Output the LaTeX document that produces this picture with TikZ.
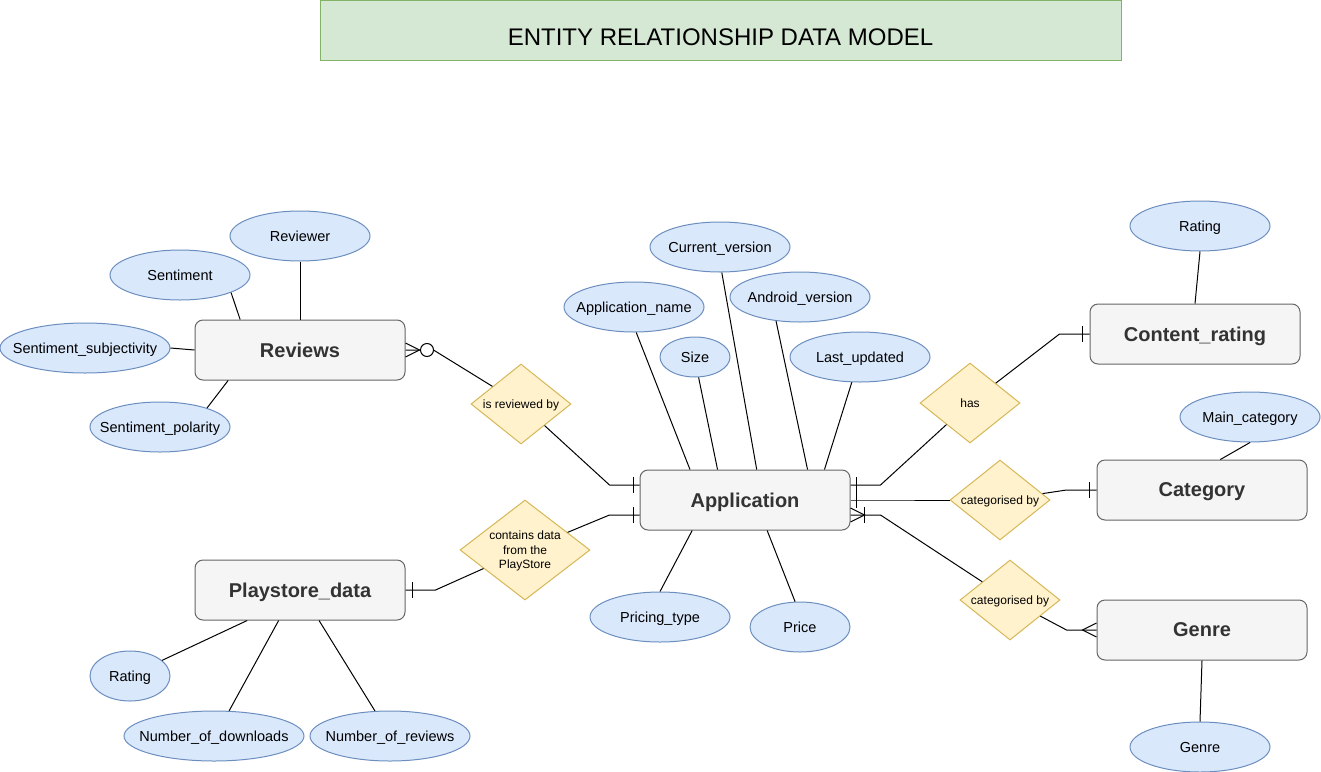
\documentclass[tikz,border=0pt]{standalone}
\usepackage{fontspec}
\setmainfont{Liberation Sans}
\usetikzlibrary{calc,shapes.geometric}

\definecolor{entfill}{HTML}{F5F5F5}
\definecolor{entline}{HTML}{666666}
\definecolor{enttext}{HTML}{333333}
\definecolor{attfill}{HTML}{DAE8FC}
\definecolor{attline}{HTML}{6C8EBF}
\definecolor{relfill}{HTML}{FFF2CC}
\definecolor{relline}{HTML}{D6B656}
\definecolor{titfill}{HTML}{D5E8D4}
\definecolor{titline}{HTML}{82B366}

% ER end marks (all connectors meet the entities horizontally)
\tikzset{
  onebar/.pic={\draw (0,-8) -- (0,8);},
  crowright/.pic={\draw (0,-7) -- (14,0) -- (0,7);},
  crowleft/.pic={\draw (0,-7) -- (-14,0) -- (0,7);},
}

\begin{document}
\begin{tikzpicture}[x=1pt, y=-1pt, line width=1pt,
  every node/.style={font=\fontsize{14.5}{17}\selectfont, text depth=0pt},
  titlebox/.style={draw=titline, fill=titfill, minimum width=801pt, minimum height=60pt,
    inner sep=0pt, text height=30pt, font=\fontsize{24}{28}\selectfont},
  entity/.style={draw=entline, fill=entfill, rounded corners=8pt, minimum width=210pt,
    minimum height=60pt, text=enttext, font=\fontsize{20}{24}\selectfont\bfseries},
  attr/.style={ellipse, draw=attline, fill=attfill, minimum width=140pt, minimum height=50pt,
    inner xsep=-20pt, inner ysep=0pt},
  rel/.style={diamond, draw=relline, fill=relfill, minimum width=100pt, minimum height=80pt,
    inner sep=0pt, aspect=1.25, align=center, font=\fontsize{12}{14.5}\selectfont}]
  \useasboundingbox (0,0) rectangle (1321,771);

  % Title
  \node[titlebox] (title) at (720.5,30) {ENTITY RELATIONSHIP DATA MODEL};

  % === Entities ===
  \node[entity] (rev)  at (300,350)  {Reviews};
  \node[entity] (app)  at (745,500)  {Application};
  \node[entity] (ps)   at (300,590)  {Playstore\_data};
  \node[entity] (cont) at (1195,334) {Content\_rating};
  \node[entity] (cat)  at (1202,490) {Category};
  \node[entity] (gen)  at (1202,630) {Genre};

  % === Attributes ===
  \node[attr] (rvwr)  at (300,236) {Reviewer};
  \node[attr] (sent)  at (180,275) {Sentiment};
  \node[attr, minimum width=170pt] (ssubj) at (85,348) {Sentiment\_subjectivity};
  \node[attr] (spol)  at (160,427) {Sentiment\_polarity};
  \node[attr] (aname) at (634,307) {Application\_name};
  \node[attr, minimum width=70pt, minimum height=40pt] (size) at (695,357) {Size};
  \node[attr] (curv)  at (720,247) {Current\_version};
  \node[attr] (andv)  at (800,297) {Android\_version};
  \node[attr] (lupd)  at (860,357) {Last\_updated};
  \node[attr] (ptype) at (660,617) {Pricing\_type};
  \node[attr, minimum width=100pt] (price) at (800,627) {Price};
  \node[attr] (crate) at (1200,226) {Rating};
  \node[attr] (mcat)  at (1250,417) {Main\_category};
  \node[attr] (gname) at (1200,747) {Genre};
  \node[attr, minimum width=80pt] (prate) at (130,676) {Rating};
  \node[attr, minimum width=180pt] (ndown) at (214,736) {Number\_of\_downloads};
  \node[attr, minimum width=160pt] (nrev)  at (390,736) {Number\_of\_reviews};

  % === Relationships ===
  \node[rel] (revby) at (521,404) {is reviewed by};
  \node[rel, minimum width=130pt, minimum height=100pt, aspect=1.3] (fromps) at (525,550)
    {contains data\\from the\\PlayStore};
  \node[rel] (has)   at (970,403) {has};
  \node[rel] (catby) at (1000,500) {categorised by};
  \node[rel] (genby) at (1010,600) {categorised by};

  % --- attribute links ---
  \draw (rvwr) -- (rev);
  \draw (sent.-19) -- (rev.153);
  \draw (ssubj.east) -- (rev.west);
  \draw (spol.22) -- (rev.203);
  \draw (aname.-85) -- (app.151);
  \draw (size.-80) -- (app.132);
  \draw (curv.-86) -- (app.69);
  \draw (andv.225) -- (app.26);
  \draw (lupd.252) -- (app.21);
  \draw (ptype.north) -- (app.210);
  \draw (price.101) -- (app.306);
  \draw (crate.south) -- (cont.north);
  \draw (mcat.south) -- (cat.59);
  \draw (gname.north) -- (gen.south);
  \draw (prate.26) -- (ps.210);
  \draw (ndown.59) -- (ps.235);
  \draw (nrev.121) -- (ps.302);

  % --- relationship links ---
  % Reviews (zero or many) -- Application (one)
  \draw (rev.east) -- ++(28,0) -- (revby);
  \pic at (rev.east) {crowright};
  \draw[fill=white] ([xshift=21.5pt]rev.east) circle (6.5pt);
  \draw ([yshift=15pt]app.west) -- ++(-30,0) -- (revby);
  \pic at ([xshift=-6pt,yshift=15pt]app.west) {onebar};

  % Playstore_data (one) -- Application (one)
  \draw (ps.east) -- ++(30,0) -- (fromps);
  \pic at ([xshift=7pt]ps.east) {onebar};
  \draw ([yshift=-15pt]app.west) -- ++(-30,0) -- (fromps);
  \pic at ([xshift=-6pt,yshift=-15pt]app.west) {onebar};

  % Application -- Content_rating
  \draw ([yshift=15pt]app.east) -- ++(30,0) -- (has);
  \pic at ([xshift=6pt,yshift=15pt]app.east) {onebar};
  \draw (has) -- ([xshift=-30pt]cont.west) -- (cont.west);
  \pic at ([xshift=-7pt]cont.west) {onebar};

  % Application -- Category
  \draw (app.east) -- ++(30,0) -- (catby);
  \pic at ([xshift=6pt]app.east) {onebar};
  \draw (catby) -- ([xshift=-30pt]cat.west) -- (cat.west);
  \pic at ([xshift=-7pt]cat.west) {onebar};

  % Application (one or many) -- Genre (many)
  \draw ([yshift=-15pt]app.east) -- ++(30,0) -- (genby);
  \pic at ([yshift=-15pt]app.east) {crowright};
  \pic at ([xshift=14pt,yshift=-15pt]app.east) {onebar};
  \draw (genby) -- ([xshift=-30pt]gen.west) -- (gen.west);
  \pic at (gen.west) {crowleft};
\end{tikzpicture}
\end{document}
